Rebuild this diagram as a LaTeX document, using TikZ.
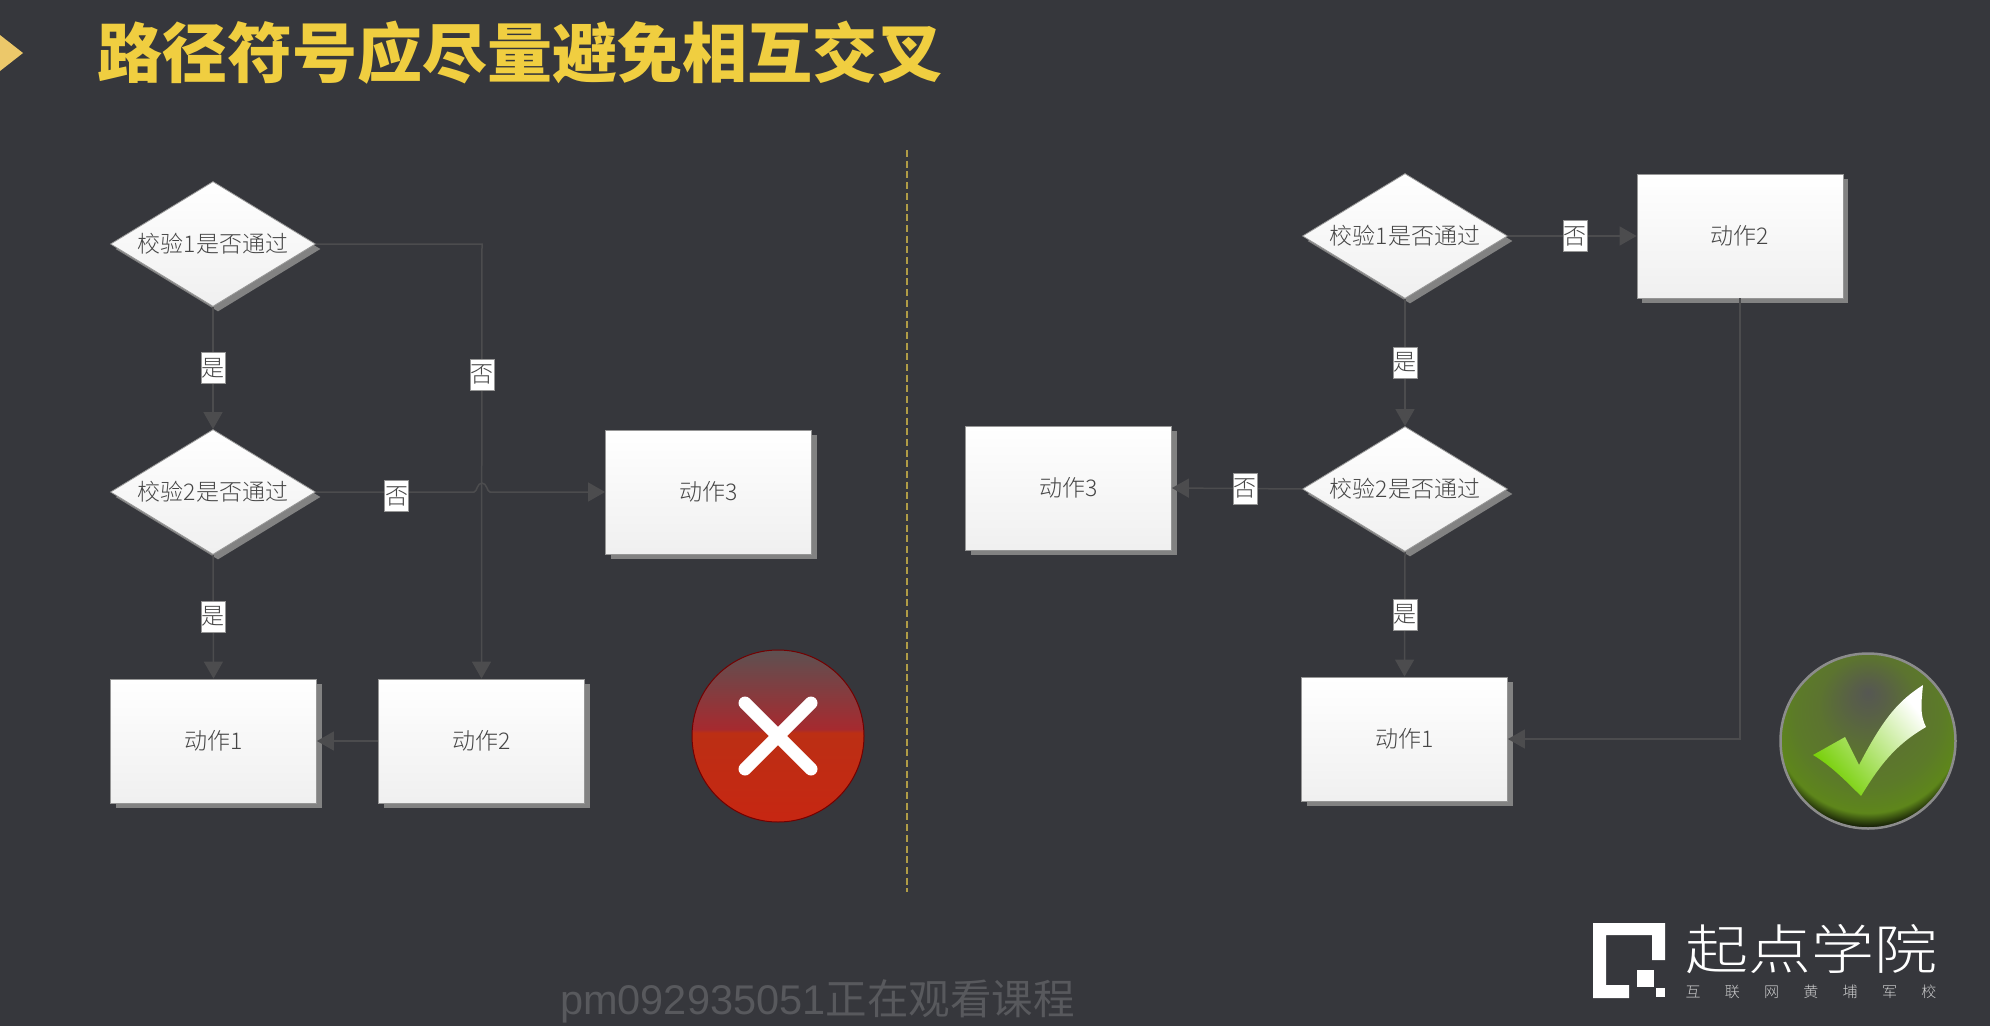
\documentclass[tikz,border=0pt]{standalone}
\usepackage{fontspec}
\setmainfont{Noto Sans CJK SC}
\newfontfamily\lightcjk{Noto Sans CJK SC Light}
\newfontfamily\latinsans{Liberation Sans}
\usetikzlibrary{shapes.geometric,arrows.meta,shadows}
\definecolor{slide}{RGB}{54,55,60}
\definecolor{titlegold}{RGB}{240,206,64}
\definecolor{markgold}{RGB}{236,200,106}
\definecolor{dashgold}{RGB}{176,156,70}
\definecolor{flowgray}{RGB}{76,76,78}
\definecolor{shadowgray}{RGB}{130,130,130}
\definecolor{edgegray}{RGB}{150,150,150}
\definecolor{inkgray}{RGB}{70,70,70}
\definecolor{watermark}{RGB}{88,89,93}
\pgfdeclareverticalshading{redball}{100bp}{color(0bp)=(red!50!black); color(25bp)=(rgb:red,134;green,26;blue,12); color(51bp)=(rgb:red,184;green,46;blue,20); color(52bp)=(rgb:red,198;green,50;blue,56); color(75bp)=(rgb:red,241;green,208;blue,210); color(100bp)=(white)}
\pgfdeclareradialshading{greenball}{\pgfpoint{0bp}{14bp}}{color(0bp)=(rgb:red,240;green,245;blue,232); color(5bp)=(rgb:red,205;green,222;blue,165); color(14bp)=(rgb:red,135;green,170;blue,70); color(21bp)=(rgb:red,90;green,120;blue,40); color(27bp)=(rgb:red,28;green,40;blue,8); color(31bp)=(black); color(50bp)=(black)}
\begin{document}
\begin{tikzpicture}[x=1pt,y=-1pt]
\tikzstyle{cardfill} = [top color=white,bottom color=black!6,draw=edgegray,line width=0.8pt,inner sep=0pt,text=inkgray,font=\lightcjk\fontsize{23}{23}\selectfont,drop shadow={shadow xshift=5pt,shadow yshift=-5pt,fill=shadowgray,opacity=1}]
\tikzstyle{check} = [cardfill,diamond,aspect=1.64,minimum width=205pt,minimum height=125pt]
\tikzstyle{action} = [cardfill,rectangle,minimum width=206pt,minimum height=124pt]
\tikzstyle{flow} = [draw=flowgray,line width=1.5pt,-{Triangle[length=17pt,width=19pt]}]
\tikzstyle{answer} = [fill=white,draw=edgegray,line width=0.5pt,inner sep=0pt,minimum width=24pt,minimum height=31pt,text=inkgray,font=\lightcjk\fontsize{23}{23}\selectfont]
\useasboundingbox (0,0) rectangle (1990,1026);
\fill[slide] (0,0) rectangle (1990,1026);
%titre
\fill[markgold] (0,35)--(23,53)--(0,71)--cycle;
\node[anchor=west,inner sep=0pt,text=titlegold,font=\bfseries\fontsize{65}{65}\selectfont] (title) at (97,53) {路径符号应尽量避免相互交叉};
%separation
\draw[dashgold,line width=2.5pt,dash pattern=on 7pt off 3.7pt] (907,150)--(907,892);
%schema de gauche
\node[check] (leftA) at (213,244) {校验1是否通过};
\node[check] (leftB) at (213,492) {校验2是否通过};
\node[action] (leftC) at (708.5,492) {动作3};
\node[action] (leftD) at (213.5,741) {动作1};
\node[action] (leftE) at (481.5,741) {动作2};
\coordinate (leftbend) at (482,244);
\coordinate (jumpin) at (474,492);
\coordinate (jumpout) at (490,492);
\draw[flow] (leftA.south)--node[answer] (leftyes) {是} (leftB.north);
\draw[flow] (leftB.south)--node[answer] (leftyesb) {是} (leftD.north);
\draw[flow] (leftA.east)--(leftbend)--node[answer,pos=0.3] (leftno) {否} (leftE.north);
\draw[flow] (leftB.east)--node[answer,pos=0.51,yshift=-4pt] (leftnob) {否} (jumpin) .. controls (477,492) and (477,483) .. (482,483) .. controls (487,483) and (487,492) .. (jumpout)--(leftC.west);
\draw[flow] (leftE.west)--(leftD.east);
%croix rouge
\node[circle,minimum size=172pt,inner sep=0pt,shading=redball,draw=red!45!black,line width=1pt] (wrong) at (778,736) {};
\draw[white,line width=13pt,line cap=round] (745,703)--(811,769);
\draw[white,line width=13pt,line cap=round] (811,703)--(745,769);
%schema de droite
\node[check] (rightA) at (1405,236) {校验1是否通过};
\node[check] (rightB) at (1405,489) {校验2是否通过};
\node[action] (rightC) at (1740,236) {动作2};
\node[action] (rightD) at (1068.5,488) {动作3};
\node[action] (rightE) at (1404.5,739) {动作1};
\coordinate (rightbend) at (rightC.south |- rightE.east);
\draw[flow] (rightA.south)--node[answer] (rightyes) {是} (rightB.north);
\draw[flow] (rightB.south)--node[answer] (rightyesb) {是} (rightE.north);
\draw[flow] (rightA.east)--node[answer,pos=0.52] (rightno) {否} (rightC.west);
\draw[flow] (rightB.west)--node[answer,pos=0.44] (rightnob) {否} (rightD.east);
\draw[flow] (rightC.south)--(rightbend)--(rightE.east);
%coche verte
\node[circle,minimum size=175pt,inner sep=0pt,shading=greenball,draw=black!45,line width=2.5pt] (right) at (1868,741) {};
\path[top color=white,bottom color=black!35!green!55!yellow,shading angle=-50] (1813,755)--(1845,737)--(1859,765) .. controls (1885,715) and (1900,700) .. (1923,685) .. controls (1921,705) and (1920,715) .. (1926,727) .. controls (1895,745) and (1880,765) .. (1861,796) .. controls (1845,780) and (1830,765) .. (1813,755)--cycle;
%logo
\fill[white] (1593,923)--(1665,923)--(1665,960)--(1652,960)--(1652,935)--(1606,935)--(1606,985)--(1629,985)--(1629,998)--(1593,998)--cycle;
\fill[white] (1637,970) rectangle (1654,987);
\fill[white] (1656,988) rectangle (1665,997);
\node[inner sep=0pt,text=white,font=\lightcjk\fontsize{63}{63}\selectfont,yscale=0.85] (brand) at (1811,949) {起点学院};
\foreach \ch [count=\i] in {互,联,网,黄,埔,军,校}
  \node[inner sep=0pt,text=white!75!slide,font=\lightcjk\fontsize{15}{15}\selectfont] (sub\i) at ({1693+39.3*(\i-1)},992) {\ch};
%filigrane
\node[anchor=west,inner sep=0pt,text=watermark,font=\fontsize{41.5}{41.5}\selectfont] (viewer) at (560,1001) {{\latinsans pm092935051}正在观看课程};
\end{tikzpicture}
\end{document}
